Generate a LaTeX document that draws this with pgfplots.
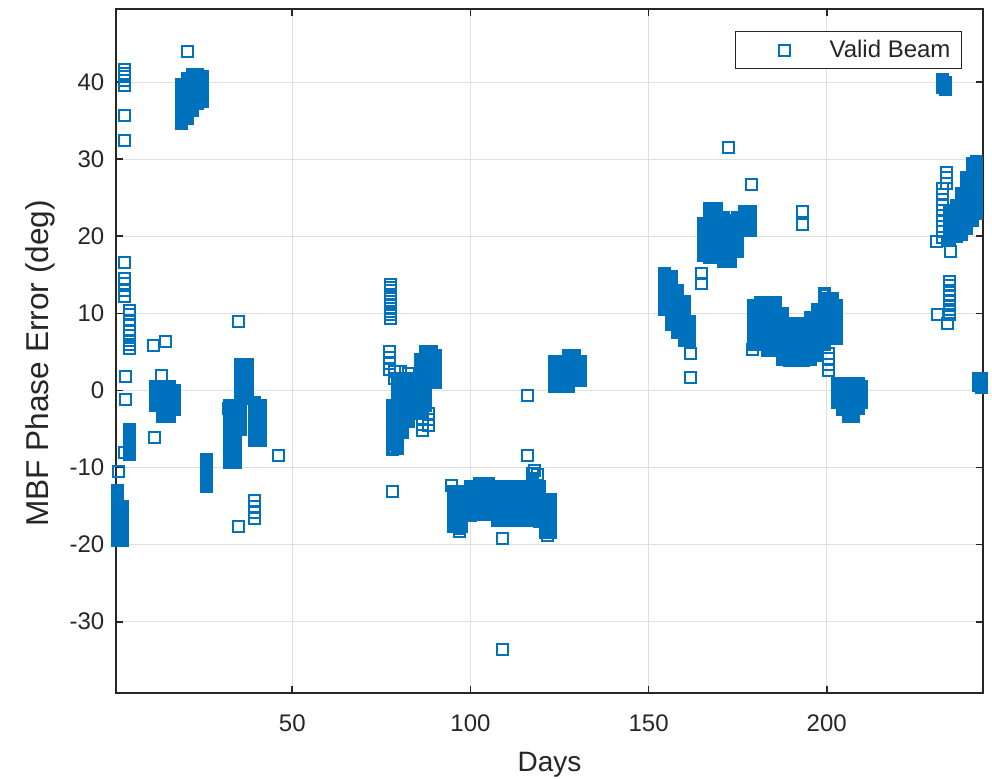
\documentclass[border=0pt]{standalone}
\usepackage{fontspec}
\setmainfont{Liberation Sans}
\usepackage{pgfplots}
\pgfplotsset{compat=1.18}
\definecolor{mblue}{RGB}{0,114,189}
\definecolor{txt}{RGB}{38,38,38}
\definecolor{gridc}{RGB}{223,223,223}
\begin{document}
\begin{tikzpicture}
\useasboundingbox (0,0) rectangle (496pt,389.5pt);
\begin{axis}[
  at={(58.15pt,42.85pt)}, anchor=south west,
  width=433.2pt, height=341.9pt, scale only axis,
  xmin=0.59, xmax=243.78, ymin=-39.3, ymax=49.45,
  clip=false,
  xtick={50,100,150,200},
  ytick={-30,-20,-10,0,10,20,30,40},
  /pgf/number format/assume math mode=true,
  tick align=inside,
  major tick length=3.5pt,
  every tick/.style={txt, line width=0.9pt},
  axis line style={txt, line width=1pt},
  grid=major,
  major grid style={gridc, line width=0.6pt},
  ticklabel style={font=\fontsize{12}{14}\selectfont, text=txt},
  xticklabel style={yshift=-7.3pt},
  yticklabel style={xshift=-2.5pt},
  xlabel={Days},
  ylabel={MBF Phase Error (deg)},
  xlabel style={font=\fontsize{14}{16}\selectfont, text=txt, at={(axis description cs:0.5,-0.1147)}, anchor=base},
  ylabel style={font=\fontsize{15.8}{18}\selectfont, text=txt, at={(axis description cs:-0.0881,0.4823)}, anchor=center},
  legend style={at={(axis description cs:1,1)}, anchor=north east, xshift=-10.5pt, yshift=-10.75pt,
    draw=txt, line width=0.6pt, fill=white, inner xsep=0pt, inner ysep=0pt,
    nodes={inner sep=0pt}, font=\fontsize{12}{14}\selectfont, text=txt},
  legend image code/.code={\path[draw=none,fill=none] (-24.5pt,-9.3pt) (22.5pt,9.3pt); \draw[#1] plot coordinates {(0pt,0pt)};},
]
% sparse / isolated samples
\addplot[only marks, color=mblue, mark=square, mark size=2.75pt, mark options={line width=1pt}] coordinates {
(3,41.7) (3,41.2) (3,40.7) (3,40.2) (3,39.6) (3,35.7) (3,32.5)
(3,16.6) (2.9,14.5) (2.9,13.9) (2.9,13) (2.9,12.2)
(4.2,10.4) (4.2,9.8) (4.2,9.1) (4.2,8.5) (4.2,7.8) (4.2,7.2) (4.2,6.5) (4.2,6) (4.2,5.5)
(3.3,1.8) (3.3,-1.2) (3,-8) (1.1,-10.5)
(13.3,2.0) (11,5.9) (14.5,6.4) (11.2,-6.1)
(20.7,44)
(34.8,9.0) (46,-8.4) (39.3,-14.3) (39.3,-15.1) (39.3,-15.9) (39.3,-16.6) (34.8,-17.6) (32,-2.3)
(77.5,13.8) (77.5,13.4) (77.5,13) (77.5,12.5) (77.5,12.1) (77.5,11.6) (77.5,11.1) (77.5,10.6) (77.5,10.2) (77.5,9.8) (77.5,9.3)
(77.3,5) (77.3,4.3) (77.3,3.5) (77.3,2.7) (78.8,2.5) (78.8,1.5) (80.5,2.5) (82.5,2.2) (78,-13.1)
(86.5,-3.6) (86.5,-4.4) (86.5,-5.2) (88.3,-3) (88.3,-3.8) (88.3,-4.6)
(94.8,-12.3) (116,-0.6) (116,-8.4) (118,-10.4) (117.5,-10.8) (118.7,-10.9) (109,-19.2) (109,-33.6) (97,-17.9) (97,-18.3) (121.5,-18.8)
(161.7,4.8) (161.7,1.7)
(164.9,15.2) (164.9,13.9) (172.4,31.6) (179,26.7) (193.1,23.2) (193.1,21.5)
(200.5,4.8) (200.5,4.1) (200.5,3.4) (200.5,2.6) (179.3,5.3)
(233.5,28.3) (233.5,27.6) (233.5,26.8) (232.5,26.2) (232.5,25.5) (232.5,24.8) (232.5,24.1) (232.5,23.4) (232.5,22.7) (232.5,22) (232.5,21.3) (232.5,20.6) (232.5,19.9) (230.7,19.3) (234.6,18)
(234.5,14.2) (234.5,13.6) (234.5,13) (234.5,12.3) (234.5,11.7) (234.5,11) (234.5,10.5) (234.5,9.8) (231.1,9.8) (234,8.7)
};
\addlegendentry{Valid Beam\hspace*{5.3pt}}
% dense clusters of samples
\addplot[only marks, color=mblue, mark=square, mark size=2.25pt, mark options={line width=2pt}, forget plot] coordinates {
(0.8,-13) (0.8,-13.5) (0.8,-14) (0.8,-14.5) (0.8,-15) (0.8,-15.5) (0.8,-16) (0.8,-16.5) (0.8,-17) (0.8,-17.5) (0.8,-18) (0.8,-18.5) (0.8,-19) (0.8,-19.5)
(2.2,-15) (2.2,-15.5) (2.2,-16) (2.2,-16.5) (2.2,-17) (2.2,-17.5) (2.2,-18) (2.2,-18.5) (2.2,-19) (2.2,-19.5)
(4.3,-5) (4.3,-5.5) (4.3,-6) (4.3,-6.5) (4.3,-7) (4.3,-7.5) (4.3,-8) (4.3,-8.3)
(11.5,0.5) (11.5,0) (11.5,-0.5) (11.5,-1) (11.5,-1.5) (11.5,-2)
(13.5,0.5) (13.5,0) (13.5,-0.5) (13.5,-1) (13.5,-1.5) (13.5,-2) (13.5,-2.5) (13.5,-3) (13.5,-3.4)
(15.5,0.5) (15.5,0) (15.5,-0.5) (15.5,-1) (15.5,-1.5) (15.5,-2) (15.5,-2.5) (15.5,-3) (15.5,-3.4)
(17,0) (17,-0.5) (17,-1) (17,-1.5) (17,-2) (17,-2.5)
(19,34.7) (19,35.2) (19,35.7) (19,36.2) (19,36.7) (19,37.2) (19,37.7) (19,38.2) (19,38.7) (19,39.2) (19,39.7)
(20.5,35.3) (20.5,35.8) (20.5,36.3) (20.5,36.8) (20.5,37.3) (20.5,37.8) (20.5,38.3) (20.5,38.8) (20.5,39.3) (20.5,39.8) (20.5,40.3) (20.5,40.5)
(22,36.3) (22,36.8) (22,37.3) (22,37.8) (22,38.3) (22,38.8) (22,39.3) (22,39.8) (22,40.3) (22,40.8) (22,41)
(23.5,37.2) (23.5,37.7) (23.5,38.2) (23.5,38.7) (23.5,39.2) (23.5,39.7) (23.5,40.2) (23.5,40.7) (23.5,41)
(24.8,37.5) (24.8,38) (24.8,38.5) (24.8,39) (24.8,39.5) (24.8,40) (24.8,40.5) (24.8,40.7)
(26,-8.9) (26,-9.4) (26,-9.9) (26,-10.4) (26,-10.9) (26,-11.4) (26,-11.9) (26,-12.4)
(32.5,-2) (32.5,-2.5) (32.5,-3) (32.5,-3.5) (32.5,-4) (32.5,-4.5) (32.5,-5) (32.5,-5.5) (32.5,-6) (32.5,-6.5) (32.5,-7) (32.5,-7.5) (32.5,-8) (32.5,-8.5) (32.5,-9) (32.5,-9.3)
(34,-3) (34,-3.5) (34,-4) (34,-4.5) (34,-5) (34,-5.5) (34,-6) (34,-6.5) (34,-7) (34,-7.5) (34,-8) (34,-8.5) (34,-9) (34,-9.3)
(35.5,3.4) (35.5,2.9) (35.5,2.4) (35.5,1.9) (35.5,1.4) (35.5,0.9) (35.5,0.4) (35.5,-0.1) (35.5,-0.6) (35.5,-1.1) (35.5,-1.6) (35.5,-2.1) (35.5,-2.6) (35.5,-3.1) (35.5,-3.6) (35.5,-4.1) (35.5,-4.6) (35.5,-5)
(37.3,3.4) (37.3,2.9) (37.3,2.4) (37.3,1.9) (37.3,1.4) (37.3,0.9) (37.3,0.4) (37.3,-0.1) (37.3,-0.6) (37.3,-1)
(39.3,-1.5) (39.3,-2) (39.3,-2.5) (39.3,-3) (39.3,-3.5) (39.3,-4) (39.3,-4.5) (39.3,-5) (39.3,-5.5) (39.3,-6) (39.3,-6.5)
(41,-2) (41,-2.5) (41,-3) (41,-3.5) (41,-4) (41,-4.5) (41,-5) (41,-5.5) (41,-6) (41,-6.5)
(78,-2) (78,-2.5) (78,-3) (78,-3.5) (78,-4) (78,-4.5) (78,-5) (78,-5.5) (78,-6) (78,-6.5) (78,-7) (78,-7.6)
(79.5,1) (79.5,0.5) (79.5,0) (79.5,-0.5) (79.5,-1) (79.5,-1.5) (79.5,-2) (79.5,-2.5) (79.5,-3) (79.5,-3.5) (79.5,-4) (79.5,-4.5) (79.5,-5) (79.5,-5.5) (79.5,-6) (79.5,-6.5) (79.5,-7) (79.5,-7.5)
(81,1.5) (81,1) (81,0.5) (81,0) (81,-0.5) (81,-1) (81,-1.5) (81,-2) (81,-2.5) (81,-3) (81,-3.5) (81,-4) (81,-4.5) (81,-5) (81,-5.5)
(82.5,1) (82.5,0.5) (82.5,0) (82.5,-0.5) (82.5,-1) (82.5,-1.5) (82.5,-2) (82.5,-2.5) (82.5,-3) (82.5,-3.5) (82.5,-4)
(84.2,1.5) (84.2,1) (84.2,0.5) (84.2,0) (84.2,-0.5) (84.2,-1) (84.2,-1.5) (84.2,-2) (84.2,-2.5) (84.2,-3)
(86,4) (86,3.5) (86,3) (86,2.5) (86,2) (86,1.5) (86,1) (86,0.5) (86,0) (86,-0.5) (86,-1) (86,-1.5) (86,-2) (86,-2.5) (86,-3)
(87.5,5) (87.5,4.5) (87.5,4) (87.5,3.5) (87.5,3) (87.5,2.5) (87.5,2) (87.5,1.5) (87.5,1) (87.5,0.5) (87.5,0) (87.5,-0.5) (87.5,-1) (87.5,-1.5) (87.5,-2)
(89,5) (89,4.5) (89,4) (89,3.5) (89,3) (89,2.5) (89,2) (89,1.5) (89,1)
(90.3,4.5) (90.3,4) (90.3,3.5) (90.3,3) (90.3,2.5) (90.3,2) (90.3,1.5) (90.3,1)
(95.2,-13.1) (95.2,-13.6) (95.2,-14.1) (95.2,-14.6) (95.2,-15.1) (95.2,-15.6) (95.2,-16.1) (95.2,-16.6) (95.2,-17.1) (95.2,-17.6)
(97.5,-13.1) (97.5,-13.6) (97.5,-14.1) (97.5,-14.6) (97.5,-15.1) (97.5,-15.6) (97.5,-16.1) (97.5,-16.6) (97.5,-17.1) (97.5,-17.6)
(100,-12.5) (100,-13) (100,-13.5) (100,-14) (100,-14.5) (100,-15) (100,-15.5) (100,-16) (100,-16.2)
(102.5,-12.1) (102.5,-12.6) (102.5,-13.1) (102.5,-13.6) (102.5,-14.1) (102.5,-14.6) (102.5,-15.1) (102.5,-15.6) (102.5,-16.1)
(105,-12.1) (105,-12.6) (105,-13.1) (105,-13.6) (105,-14.1) (105,-14.6) (105,-15.1) (105,-15.6) (105,-16.1)
(107.5,-12.5) (107.5,-13) (107.5,-13.5) (107.5,-14) (107.5,-14.5) (107.5,-15) (107.5,-15.5) (107.5,-16) (107.5,-16.5) (107.5,-16.9)
(110,-12.5) (110,-13) (110,-13.5) (110,-14) (110,-14.5) (110,-15) (110,-15.5) (110,-16) (110,-16.5) (110,-16.9)
(112.5,-12.5) (112.5,-13) (112.5,-13.5) (112.5,-14) (112.5,-14.5) (112.5,-15) (112.5,-15.5) (112.5,-16) (112.5,-16.5) (112.5,-16.9)
(115,-12.5) (115,-13) (115,-13.5) (115,-14) (115,-14.5) (115,-15) (115,-15.5) (115,-16) (115,-16.5) (115,-16.9)
(117.5,-11.4) (117.5,-11.9) (117.5,-12.4) (117.5,-12.9) (117.5,-13.4) (117.5,-13.9) (117.5,-14.4) (117.5,-14.9) (117.5,-15.4) (117.5,-15.9) (117.5,-16.4) (117.5,-16.9)
(119.5,-12.5) (119.5,-13) (119.5,-13.5) (119.5,-14) (119.5,-14.5) (119.5,-15) (119.5,-15.5) (119.5,-16) (119.5,-16.5) (119.5,-17)
(121,-14.2) (121,-14.7) (121,-15.2) (121,-15.7) (121,-16.2) (121,-16.7) (121,-17.2) (121,-17.7) (121,-18.2) (121,-18.4)
(122.4,-14.2) (122.4,-14.7) (122.4,-15.2) (122.4,-15.7) (122.4,-16.2) (122.4,-16.7) (122.4,-17.2) (122.4,-17.7) (122.4,-18.2) (122.4,-18.4)
(123.6,3.7) (123.6,3.2) (123.6,2.7) (123.6,2.2) (123.6,1.7) (123.6,1.2) (123.6,0.7) (123.6,0.5)
(125.5,3.7) (125.5,3.2) (125.5,2.7) (125.5,2.2) (125.5,1.7) (125.5,1.2) (125.5,0.7) (125.5,0.5)
(127.5,4.6) (127.5,4.1) (127.5,3.6) (127.5,3.1) (127.5,2.6) (127.5,2.1) (127.5,1.6) (127.5,1.1) (127.5,0.6) (127.5,0.5)
(129.3,4.6) (129.3,4.1) (129.3,3.6) (129.3,3.1) (129.3,2.6) (129.3,2.1) (129.3,1.6) (129.3,1.3)
(130.8,3.7) (130.8,3.2) (130.8,2.7) (130.8,2.2) (130.8,1.7) (130.8,1.3)
(154.5,15.2) (154.5,14.7) (154.5,14.2) (154.5,13.7) (154.5,13.2) (154.5,12.7) (154.5,12.2) (154.5,11.7) (154.5,11.2) (154.5,10.7) (154.5,10.5)
(156.3,14.8) (156.3,14.3) (156.3,13.8) (156.3,13.3) (156.3,12.8) (156.3,12.3) (156.3,11.8) (156.3,11.3) (156.3,10.8) (156.3,10.3) (156.3,9.8) (156.3,9.3) (156.3,8.8) (156.3,8.5)
(158.2,13) (158.2,12.5) (158.2,12) (158.2,11.5) (158.2,11) (158.2,10.5) (158.2,10) (158.2,9.5) (158.2,9) (158.2,8.5) (158.2,8) (158.2,7.5)
(160,11.5) (160,11) (160,10.5) (160,10) (160,9.5) (160,9) (160,8.5) (160,8) (160,7.5) (160,7) (160,6.5)
(161.6,9) (161.6,8.5) (161.6,8) (161.6,7.5) (161.6,7) (161.6,6.5)
(165.3,17.5) (165.3,18) (165.3,18.5) (165.3,19) (165.3,19.5) (165.3,20) (165.3,20.5) (165.3,21) (165.3,21.5) (165.3,21.7)
(167,17.2) (167,17.7) (167,18.2) (167,18.7) (167,19.2) (167,19.7) (167,20.2) (167,20.7) (167,21.2) (167,21.7) (167,22.2) (167,22.7) (167,23.2) (167,23.6)
(169,17.2) (169,17.7) (169,18.2) (169,18.7) (169,19.2) (169,19.7) (169,20.2) (169,20.7) (169,21.2) (169,21.7) (169,22.2) (169,22.7) (169,23.2) (169,23.6)
(171,16.7) (171,17.2) (171,17.7) (171,18.2) (171,18.7) (171,19.2) (171,19.7) (171,20.2) (171,20.7) (171,21.2) (171,21.7) (171,22.2) (171,22.5)
(173,16.7) (173,17.2) (173,17.7) (173,18.2) (173,18.7) (173,19.2) (173,19.7) (173,20.2) (173,20.7) (173,21.2) (173,21.7) (173,22)
(175,18) (175,18.5) (175,19) (175,19.5) (175,20) (175,20.5) (175,21) (175,21.5) (175,22) (175,22.5)
(177,20.8) (177,21.3) (177,21.8) (177,22.3) (177,22.8) (177,23.2)
(178.5,20.8) (178.5,21.3) (178.5,21.8) (178.5,22.3) (178.5,22.8) (178.5,23.2)
(179.5,6) (179.5,6.5) (179.5,7) (179.5,7.5) (179.5,8) (179.5,8.5) (179.5,9) (179.5,9.5) (179.5,10) (179.5,10.5) (179.5,11)
(181.5,6) (181.5,6.5) (181.5,7) (181.5,7.5) (181.5,8) (181.5,8.5) (181.5,9) (181.5,9.5) (181.5,10) (181.5,10.5) (181.5,11) (181.5,11.4)
(183.5,5.2) (183.5,5.7) (183.5,6.2) (183.5,6.7) (183.5,7.2) (183.5,7.7) (183.5,8.2) (183.5,8.7) (183.5,9.2) (183.5,9.7) (183.5,10.2) (183.5,10.7) (183.5,11.2) (183.5,11.4)
(185.5,5.2) (185.5,5.7) (185.5,6.2) (185.5,6.7) (185.5,7.2) (185.5,7.7) (185.5,8.2) (185.5,8.7) (185.5,9.2) (185.5,9.7) (185.5,10.2) (185.5,10.7) (185.5,11.2) (185.5,11.4)
(187.5,4) (187.5,4.5) (187.5,5) (187.5,5.5) (187.5,6) (187.5,6.5) (187.5,7) (187.5,7.5) (187.5,8) (187.5,8.5) (187.5,9) (187.5,9.5) (187.5,10)
(189.5,3.9) (189.5,4.4) (189.5,4.9) (189.5,5.4) (189.5,5.9) (189.5,6.4) (189.5,6.9) (189.5,7.4) (189.5,7.9) (189.5,8.4) (189.5,8.7)
(191.5,3.9) (191.5,4.4) (191.5,4.9) (191.5,5.4) (191.5,5.9) (191.5,6.4) (191.5,6.9) (191.5,7.4) (191.5,7.9) (191.5,8.4) (191.5,8.7)
(193.5,3.9) (193.5,4.4) (193.5,4.9) (193.5,5.4) (193.5,5.9) (193.5,6.4) (193.5,6.9) (193.5,7.4) (193.5,7.9) (193.5,8.4) (193.5,8.7)
(195.5,4) (195.5,4.5) (195.5,5) (195.5,5.5) (195.5,6) (195.5,6.5) (195.5,7) (195.5,7.5) (195.5,8) (195.5,8.5) (195.5,9) (195.5,9.5)
(197.5,4.5) (197.5,5) (197.5,5.5) (197.5,6) (197.5,6.5) (197.5,7) (197.5,7.5) (197.5,8) (197.5,8.5) (197.5,9) (197.5,9.5) (197.5,10) (197.5,10.5)
(199.5,6) (199.5,6.5) (199.5,7) (199.5,7.5) (199.5,8) (199.5,8.5) (199.5,9) (199.5,9.5) (199.5,10) (199.5,10.5) (199.5,11) (199.5,11.5) (199.5,12) (199.5,12.6)
(201.5,6.7) (201.5,7.2) (201.5,7.7) (201.5,8.2) (201.5,8.7) (201.5,9.2) (201.5,9.7) (201.5,10.2) (201.5,10.7) (201.5,11.2) (201.5,11.7) (201.5,12)
(202.8,6.7) (202.8,7.2) (202.8,7.7) (202.8,8.2) (202.8,8.7) (202.8,9.2) (202.8,9.7) (202.8,10.2) (202.8,10.7) (202.8,11)
(203,0.9) (203,0.4) (203,-0.1) (203,-0.6) (203,-1.1) (203,-1.5)
(204.5,0.9) (204.5,0.4) (204.5,-0.1) (204.5,-0.6) (204.5,-1.1) (204.5,-1.6) (204.5,-2.1) (204.5,-2.5)
(206,0.9) (206,0.4) (206,-0.1) (206,-0.6) (206,-1.1) (206,-1.6) (206,-2.1) (206,-2.6) (206,-3.1) (206,-3.4)
(207.5,0.9) (207.5,0.4) (207.5,-0.1) (207.5,-0.6) (207.5,-1.1) (207.5,-1.6) (207.5,-2.1) (207.5,-2.6) (207.5,-3.1) (207.5,-3.4)
(209,0.9) (209,0.4) (209,-0.1) (209,-0.6) (209,-1.1) (209,-1.6) (209,-2.1) (209,-2.3)
(209.8,0.5) (209.8,0) (209.8,-0.5) (209.8,-1) (209.8,-1.5)
(232.5,40.3) (232.5,39.8) (232.5,39.3) (233.3,40) (233.3,39.5) (233.3,39)
(234.5,19.5) (234.5,20) (234.5,20.5) (234.5,21) (234.5,21.5) (234.5,22) (234.5,22.5) (234.5,23) (234.5,23.4)
(236.3,20) (236.3,20.5) (236.3,21) (236.3,21.5) (236.3,22) (236.3,22.5) (236.3,23) (236.3,23.5) (236.3,24)
(237.8,20.3) (237.8,20.8) (237.8,21.3) (237.8,21.8) (237.8,22.3) (237.8,22.8) (237.8,23.3) (237.8,23.8) (237.8,24.3) (237.8,24.8) (237.8,25.3) (237.8,25.6)
(239.3,21) (239.3,21.5) (239.3,22) (239.3,22.5) (239.3,23) (239.3,23.5) (239.3,24) (239.3,24.5) (239.3,25) (239.3,25.5) (239.3,26) (239.3,26.5) (239.3,27) (239.3,27.5) (239.3,27.7)
(240.8,22) (240.8,22.5) (240.8,23) (240.8,23.5) (240.8,24) (240.8,24.5) (240.8,25) (240.8,25.5) (240.8,26) (240.8,26.5) (240.8,27) (240.8,27.5) (240.8,28) (240.8,28.5) (240.8,29) (240.8,29.4)
(242,23) (242,23.5) (242,24) (242,24.5) (242,25) (242,25.5) (242,26) (242,26.5) (242,27) (242,27.5) (242,28) (242,28.5) (242,29) (242,29.5) (242,29.7)
(242.5,1.6) (242.5,1.1) (242.5,0.6) (243.5,1.5) (243.5,1) (243.5,0.4)
};
\end{axis}
\end{tikzpicture}
\end{document}
